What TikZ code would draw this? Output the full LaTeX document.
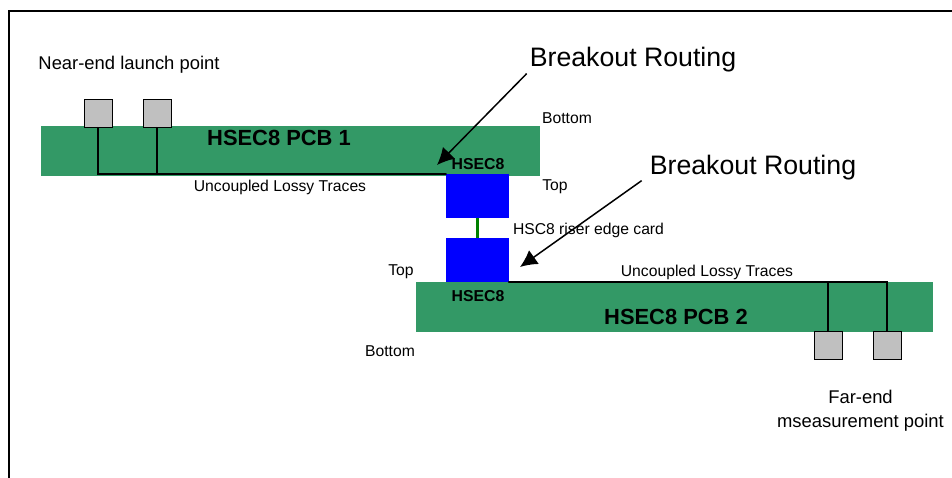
\documentclass[tikz,border=0pt]{standalone}
\usepackage{fontspec}
\setmainfont{Liberation Sans}
\usetikzlibrary{arrows.meta,positioning}
\definecolor{pcbgreen}{HTML}{339966}
\definecolor{padgray}{HTML}{C0C0C0}
\tikzset{
  pcb/.style={rectangle, fill=pcbgreen, minimum width=#1, minimum height=50pt, inner sep=0pt},
  pad/.style={rectangle, draw=black, line width=1pt, fill=padgray, minimum width=28pt, minimum height=28pt, inner sep=0pt},
  conn/.style={rectangle, fill=blue, minimum width=63pt, minimum height=44pt, inner sep=0pt},
  trace/.style={line width=2pt, line cap=round, line join=miter},
  callout/.style={-{Latex[length=17pt,width=17pt]}, line width=1.5pt},
  small/.style={inner sep=0pt, font=\fontsize{15.7}{18}\selectfont},
  label/.style={inner sep=0pt, font=\fontsize{18.4}{24}\selectfont},
  big/.style={inner sep=0pt, font=\fontsize{26.7}{30}\selectfont},
  title/.style={inner sep=0pt, font=\bfseries\fontsize{21.9}{24}\selectfont},
  hsec/.style={inner sep=0pt, font=\bfseries\fontsize{15.8}{18}\selectfont}
}
\begin{document}
\begin{tikzpicture}[x=1pt, y=-1pt]
    \useasboundingbox (0,0) rectangle (952,478);
    % outer frame
    \draw[line width=2pt] (9,478) -- (9,11) -- (952,11);
    \node[pcb=499pt] (pcbone) at (290.5,151) {};
    \node[pcb=517pt] (pcbtwo) at (674.5,307) {};
    \node[conn] (connone) at (477.5,196) {};
    \node[conn] (conntwo) at (477.5,260) {};
    \node[pad] (nearone) at (98,113.5) {};
    \node[pad] (neartwo) at (157,113.5) {};
    \node[pad] (farone) at (828,345) {};
    \node[pad] (fartwo) at (887,345) {};
    \draw[line width=3pt, green!50!black] (connone.south) -- (conntwo.north);
    \draw[trace] (nearone.south) |- (connone.north west);
    \draw[trace] (neartwo.south) -- (neartwo.south |- connone.north);
    \draw[trace] (farone.north) |- (conntwo.south east);
    \draw[trace] (fartwo.north) |- (conntwo.south east);

    \node[title] (titleone) at (279,138) {HSEC8 PCB 1};
    \node[title] (titletwo) at (676,317) {HSEC8 PCB 2};
    \node[hsec] (hsecone) at (478,164) {HSEC8};
    \node[hsec] (hsectwo) at (478,296) {HSEC8};
    \node[label] (nearlabel) at (129,64.5) {Near-end launch point};
    \node[small] (tracesone) at (280,187) {Uncoupled Lossy Traces};
    \node[small] (tracestwo) at (707,272) {Uncoupled Lossy Traces};
    \node[small] (bottomone) at (567,118.5) {Bottom};
    \node[small] (topone) at (555,187) {Top};
    \node[small] (riser) at (588.5,230) {HSC8 riser edge card};
    \node[small] (toptwo) at (401,272) {Top};
    \node[small] (bottomtwo) at (390,351) {Bottom};
    \node[label, align=center] (farlabel) at (860.5,411) {Far-end\\mseasurement point};
    \node[big] (breakone) at (633,60) {Breakout Routing};
    \node[big] (breaktwo) at (753,168) {Breakout Routing};

    \coordinate (tipone) at (437,165);
    \coordinate (tiptwo) at (520,267);
    \draw[callout] (breakone.south west) ++(-3,1) -- (tipone);
    \draw[callout] (breaktwo.south west) ++(-8,0) -- (tiptwo);
\end{tikzpicture}
\end{document}
